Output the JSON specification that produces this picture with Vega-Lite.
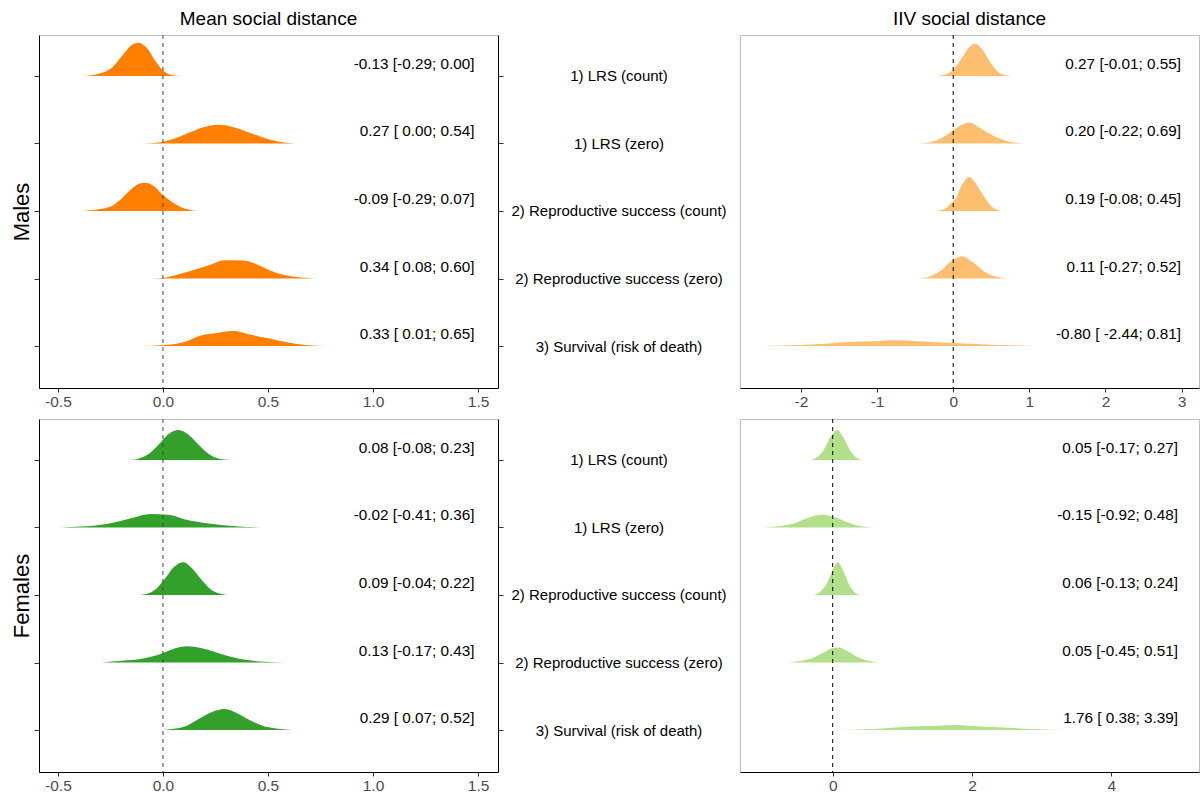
{
  "$schema": "https://vega.github.io/schema/vega-lite/v6.json",
  "autosize": {"type": "pad"},
  "padding": {"left": 10, "top": 9, "right": 0, "bottom": 0},
  "background": "white",
  "config": {
    "font": "Liberation Sans",
    "view": {"stroke": "#BDBDBD", "strokeWidth": 1},
    "axis": {"grid": false, "domainColor": "black", "domainWidth": 1, "tickColor": "#333333", "tickSize": 5, "labelFont": "Liberation Sans", "labelFontSize": 15.5, "labelColor": "#4D4D4D", "titleFont": "Liberation Sans", "titleFontWeight": "normal", "titleColor": "black", "labelOverlap": false},
    "title": {"font": "Liberation Sans", "fontSize": 19, "fontWeight": "normal", "color": "black", "offset": 6}
  },
  "datasets": {
    "mm": [
      {"o":5,"x":-0.378,"top":5,"base":5},{"o":5,"x":-0.306,"top":5.034,"base":5},{"o":5,"x":-0.243,"top":5.123,"base":5},{"o":5,"x":-0.195,"top":5.296,"base":5},{"o":5,"x":-0.148,"top":5.459,"base":5},{"o":5,"x":-0.119,"top":5.493,"base":5},{"o":5,"x":-0.076,"top":5.415,"base":5},{"o":5,"x":-0.036,"top":5.222,"base":5},{"o":5,"x":0.003,"top":5.074,"base":5},{"o":5,"x":0.043,"top":5.015,"base":5},{"o":5,"x":0.090,"top":5,"base":5},
      {"o":4,"x":-0.108,"top":4,"base":4},{"o":4,"x":-0.021,"top":4.015,"base":4},{"o":4,"x":0.059,"top":4.079,"base":4},{"o":4,"x":0.138,"top":4.178,"base":4},{"o":4,"x":0.202,"top":4.247,"base":4},{"o":4,"x":0.265,"top":4.277,"base":4},{"o":4,"x":0.329,"top":4.247,"base":4},{"o":4,"x":0.408,"top":4.163,"base":4},{"o":4,"x":0.487,"top":4.079,"base":4},{"o":4,"x":0.567,"top":4.02,"base":4},{"o":4,"x":0.659,"top":4,"base":4},
      {"o":3,"x":-0.386,"top":3,"base":3},{"o":3,"x":-0.306,"top":3.025,"base":3},{"o":3,"x":-0.243,"top":3.074,"base":3},{"o":3,"x":-0.195,"top":3.188,"base":3},{"o":3,"x":-0.156,"top":3.311,"base":3},{"o":3,"x":-0.116,"top":3.40,"base":3},{"o":3,"x":-0.084,"top":3.42,"base":3},{"o":3,"x":-0.044,"top":3.37,"base":3},{"o":3,"x":-0.005,"top":3.252,"base":3},{"o":3,"x":0.043,"top":3.133,"base":3},{"o":3,"x":0.090,"top":3.052,"base":3},{"o":3,"x":0.130,"top":3.015,"base":3},{"o":3,"x":0.170,"top":3,"base":3},
      {"o":2,"x":-0.056,"top":2,"base":2},{"o":2,"x":0.011,"top":2.015,"base":2},{"o":2,"x":0.075,"top":2.064,"base":2},{"o":2,"x":0.154,"top":2.133,"base":2},{"o":2,"x":0.233,"top":2.212,"base":2},{"o":2,"x":0.289,"top":2.272,"base":2},{"o":2,"x":0.384,"top":2.267,"base":2},{"o":2,"x":0.456,"top":2.198,"base":2},{"o":2,"x":0.519,"top":2.109,"base":2},{"o":2,"x":0.598,"top":2.04,"base":2},{"o":2,"x":0.678,"top":2.01,"base":2},{"o":2,"x":0.738,"top":2,"base":2},
      {"o":1,"x":-0.103,"top":1,"base":1},{"o":1,"x":0.011,"top":1.015,"base":1},{"o":1,"x":0.106,"top":1.064,"base":1},{"o":1,"x":0.186,"top":1.158,"base":1},{"o":1,"x":0.249,"top":1.188,"base":1},{"o":1,"x":0.337,"top":1.222,"base":1},{"o":1,"x":0.408,"top":1.173,"base":1},{"o":1,"x":0.503,"top":1.114,"base":1},{"o":1,"x":0.583,"top":1.059,"base":1},{"o":1,"x":0.678,"top":1.015,"base":1},{"o":1,"x":0.776,"top":1,"base":1}
    ],
    "mi": [
      {"o":5,"x":-0.223,"top":5,"base":5},{"o":5,"x":-0.101,"top":5.025,"base":5},{"o":5,"x":0.009,"top":5.099,"base":5},{"o":5,"x":0.118,"top":5.272,"base":5},{"o":5,"x":0.206,"top":5.42,"base":5},{"o":5,"x":0.284,"top":5.479,"base":5},{"o":5,"x":0.381,"top":5.395,"base":5},{"o":5,"x":0.490,"top":5.198,"base":5},{"o":5,"x":0.600,"top":5.049,"base":5},{"o":5,"x":0.752,"top":5,"base":5},
      {"o":4,"x":-0.45,"top":4,"base":4},{"o":4,"x":-0.276,"top":4.025,"base":4},{"o":4,"x":-0.101,"top":4.114,"base":4},{"o":4,"x":0.052,"top":4.237,"base":4},{"o":4,"x":0.206,"top":4.311,"base":4},{"o":4,"x":0.359,"top":4.227,"base":4},{"o":4,"x":0.556,"top":4.099,"base":4},{"o":4,"x":0.731,"top":4.03,"base":4},{"o":4,"x":0.941,"top":4,"base":4},
      {"o":3,"x":-0.262,"top":3,"base":3},{"o":3,"x":-0.144,"top":3.015,"base":3},{"o":3,"x":-0.035,"top":3.109,"base":3},{"o":3,"x":0.052,"top":3.222,"base":3},{"o":3,"x":0.075,"top":3.296,"base":3},{"o":3,"x":0.140,"top":3.43,"base":3},{"o":3,"x":0.206,"top":3.504,"base":3},{"o":3,"x":0.284,"top":3.43,"base":3},{"o":3,"x":0.359,"top":3.296,"base":3},{"o":3,"x":0.446,"top":3.148,"base":3},{"o":3,"x":0.534,"top":3.04,"base":3},{"o":3,"x":0.634,"top":3,"base":3},
      {"o":2,"x":-0.459,"top":2,"base":2},{"o":2,"x":-0.319,"top":2.025,"base":2},{"o":2,"x":-0.166,"top":2.114,"base":2},{"o":2,"x":-0.035,"top":2.247,"base":2},{"o":2,"x":0.118,"top":2.331,"base":2},{"o":2,"x":0.249,"top":2.247,"base":2},{"o":2,"x":0.403,"top":2.109,"base":2},{"o":2,"x":0.556,"top":2.03,"base":2},{"o":2,"x":0.752,"top":2,"base":2},
      {"o":1,"x":-2.485,"top":1,"base":1},{"o":1,"x":-2.025,"top":1.015,"base":1},{"o":1,"x":-1.588,"top":1.04,"base":1},{"o":1,"x":-1.369,"top":1.059,"base":1},{"o":1,"x":-1.063,"top":1.069,"base":1},{"o":1,"x":-0.80,"top":1.084,"base":1},{"o":1,"x":-0.45,"top":1.069,"base":1},{"o":1,"x":-0.101,"top":1.049,"base":1},{"o":1,"x":0.249,"top":1.035,"base":1},{"o":1,"x":0.600,"top":1.015,"base":1},{"o":1,"x":1.080,"top":1,"base":1}
    ],
    "fm": [
      {"o":5,"x":-0.163,"top":5,"base":5},{"o":5,"x":-0.116,"top":5.02,"base":5},{"o":5,"x":-0.068,"top":5.089,"base":5},{"o":5,"x":-0.021,"top":5.227,"base":5},{"o":5,"x":0.027,"top":5.385,"base":5},{"o":5,"x":0.075,"top":5.444,"base":5},{"o":5,"x":0.122,"top":5.375,"base":5},{"o":5,"x":0.170,"top":5.227,"base":5},{"o":5,"x":0.218,"top":5.089,"base":5},{"o":5,"x":0.273,"top":5.015,"base":5},{"o":5,"x":0.329,"top":5,"base":5},
      {"o":4,"x":-0.489,"top":4,"base":4},{"o":4,"x":-0.386,"top":4.015,"base":4},{"o":4,"x":-0.275,"top":4.049,"base":4},{"o":4,"x":-0.179,"top":4.114,"base":4},{"o":4,"x":-0.116,"top":4.168,"base":4},{"o":4,"x":-0.060,"top":4.198,"base":4},{"o":4,"x":0.027,"top":4.188,"base":4},{"o":4,"x":0.106,"top":4.119,"base":4},{"o":4,"x":0.218,"top":4.059,"base":4},{"o":4,"x":0.360,"top":4.015,"base":4},{"o":4,"x":0.503,"top":4,"base":4},
      {"o":3,"x":-0.111,"top":3,"base":3},{"o":3,"x":-0.068,"top":3.025,"base":3},{"o":3,"x":-0.029,"top":3.099,"base":3},{"o":3,"x":0.011,"top":3.247,"base":3},{"o":3,"x":0.051,"top":3.41,"base":3},{"o":3,"x":0.098,"top":3.484,"base":3},{"o":3,"x":0.138,"top":3.395,"base":3},{"o":3,"x":0.178,"top":3.247,"base":3},{"o":3,"x":0.225,"top":3.089,"base":3},{"o":3,"x":0.273,"top":3.02,"base":3},{"o":3,"x":0.317,"top":3,"base":3},
      {"o":2,"x":-0.29,"top":2,"base":2},{"o":2,"x":-0.195,"top":2.025,"base":2},{"o":2,"x":-0.10,"top":2.054,"base":2},{"o":2,"x":-0.005,"top":2.133,"base":2},{"o":2,"x":0.059,"top":2.212,"base":2},{"o":2,"x":0.114,"top":2.242,"base":2},{"o":2,"x":0.186,"top":2.212,"base":2},{"o":2,"x":0.281,"top":2.123,"base":2},{"o":2,"x":0.376,"top":2.049,"base":2},{"o":2,"x":0.487,"top":2.01,"base":2},{"o":2,"x":0.586,"top":2,"base":2},
      {"o":1,"x":-0.013,"top":1,"base":1},{"o":1,"x":0.043,"top":1.015,"base":1},{"o":1,"x":0.114,"top":1.064,"base":1},{"o":1,"x":0.170,"top":1.163,"base":1},{"o":1,"x":0.233,"top":1.267,"base":1},{"o":1,"x":0.294,"top":1.311,"base":1},{"o":1,"x":0.360,"top":1.237,"base":1},{"o":1,"x":0.424,"top":1.129,"base":1},{"o":1,"x":0.503,"top":1.04,"base":1},{"o":1,"x":0.614,"top":1,"base":1}
    ],
    "fi": [
      {"o":5,"x":-0.322,"top":5,"base":5},{"o":5,"x":-0.225,"top":5.04,"base":5},{"o":5,"x":-0.129,"top":5.148,"base":5},{"o":5,"x":-0.034,"top":5.336,"base":5},{"o":5,"x":0.062,"top":5.444,"base":5},{"o":5,"x":0.158,"top":5.326,"base":5},{"o":5,"x":0.253,"top":5.138,"base":5},{"o":5,"x":0.349,"top":5.03,"base":5},{"o":5,"x":0.435,"top":5,"base":5},
      {"o":4,"x":-0.991,"top":4,"base":4},{"o":4,"x":-0.775,"top":4.02,"base":4},{"o":4,"x":-0.560,"top":4.059,"base":4},{"o":4,"x":-0.369,"top":4.138,"base":4},{"o":4,"x":-0.154,"top":4.188,"base":4},{"o":4,"x":0.037,"top":4.148,"base":4},{"o":4,"x":0.230,"top":4.069,"base":4},{"o":4,"x":0.421,"top":4.015,"base":4},{"o":4,"x":0.622,"top":4,"base":4},
      {"o":3,"x":-0.273,"top":3,"base":3},{"o":3,"x":-0.178,"top":3.049,"base":3},{"o":3,"x":-0.082,"top":3.173,"base":3},{"o":3,"x":0.0,"top":3.37,"base":3},{"o":3,"x":0.072,"top":3.484,"base":3},{"o":3,"x":0.158,"top":3.346,"base":3},{"o":3,"x":0.238,"top":3.148,"base":3},{"o":3,"x":0.325,"top":3.03,"base":3},{"o":3,"x":0.396,"top":3,"base":3},
      {"o":2,"x":-0.642,"top":2,"base":2},{"o":2,"x":-0.488,"top":2.02,"base":2},{"o":2,"x":-0.297,"top":2.064,"base":2},{"o":2,"x":-0.129,"top":2.148,"base":2},{"o":2,"x":-0.010,"top":2.212,"base":2},{"o":2,"x":0.086,"top":2.222,"base":2},{"o":2,"x":0.205,"top":2.173,"base":2},{"o":2,"x":0.373,"top":2.074,"base":2},{"o":2,"x":0.564,"top":2.015,"base":2},{"o":2,"x":0.708,"top":2,"base":2},
      {"o":1,"x":0.086,"top":1,"base":1},{"o":1,"x":0.469,"top":1.01,"base":1},{"o":1,"x":0.852,"top":1.035,"base":1},{"o":1,"x":1.235,"top":1.054,"base":1},{"o":1,"x":1.522,"top":1.064,"base":1},{"o":1,"x":1.737,"top":1.074,"base":1},{"o":1,"x":2.0,"top":1.059,"base":1},{"o":1,"x":2.383,"top":1.04,"base":1},{"o":1,"x":2.766,"top":1.02,"base":1},{"o":1,"x":3.149,"top":1.005,"base":1},{"o":1,"x":3.555,"top":1,"base":1}
    ],
    "mmt": [
      {"o":5,"lab":"-0.13 [-0.29; 0.00]"},{"o":4,"lab":"0.27 [ 0.00; 0.54]"},{"o":3,"lab":"-0.09 [-0.29; 0.07]"},{"o":2,"lab":"0.34 [ 0.08; 0.60]"},{"o":1,"lab":"0.33 [ 0.01; 0.65]"}
    ],
    "mit": [
      {"o":5,"lab":"0.27 [-0.01; 0.55]"},{"o":4,"lab":"0.20 [-0.22; 0.69]"},{"o":3,"lab":"0.19 [-0.08; 0.45]"},{"o":2,"lab":"0.11 [-0.27; 0.52]"},{"o":1,"lab":"-0.80 [ -2.44; 0.81]"}
    ],
    "fmt": [
      {"o":5,"lab":"0.08 [-0.08; 0.23]"},{"o":4,"lab":"-0.02 [-0.41; 0.36]"},{"o":3,"lab":"0.09 [-0.04; 0.22]"},{"o":2,"lab":"0.13 [-0.17; 0.43]"},{"o":1,"lab":"0.29 [ 0.07; 0.52]"}
    ],
    "fit": [
      {"o":5,"lab":"0.05 [-0.17; 0.27]"},{"o":4,"lab":"-0.15 [-0.92; 0.48]"},{"o":3,"lab":"0.06 [-0.13; 0.24]"},{"o":2,"lab":"0.05 [-0.45; 0.51]"},{"o":1,"lab":"1.76 [ 0.38; 3.39]"}
    ]
  },
  "columns": 2,
  "spacing": {"row": 31, "column": 242},
  "bounds": "flush",
  "concat": [
    {
      "width": 459, "height": 353,
      "title": {"text": "Mean social distance"},
      "resolve": {"axis": {"y": "independent"}},
      "layer": [
        {
          "data": {"name": "mm"},
          "mark": {"type": "area", "color": "#FF7F00", "interpolate": "monotone"},
          "encoding": {
            "x": {"field": "x", "type": "quantitative", "scale": {"domain": [-0.59, 1.595], "nice": false, "zero": false}, "axis": {"values": [-0.5, 0, 0.5, 1, 1.5], "title": null, "tickSize": 4, "labelPadding": 2, "labelExpr": "datum.value < 0 ? '-' + format(-datum.value, '.1f') : format(datum.value, '.1f')"}},
            "y": {"field": "top", "type": "quantitative", "scale": {"domain": [0.378, 5.607], "nice": false, "zero": false}, "axis": {"orient": "left", "values": [1, 2, 3, 4, 5], "labels": false, "title": "Males", "titleFontSize": 22, "titlePadding": 0}},
            "y2": {"field": "base"},
            "detail": {"field": "o"}
          }
        },
        {
          "data": {"values": [{}]},
          "mark": {"type": "rule", "strokeDash": [4, 4], "color": "#444444", "strokeWidth": 1},
          "encoding": {"x": {"datum": 0}}
        },
        {
          "data": {"name": "mmt"},
          "mark": {"type": "text", "align": "right", "baseline": "middle", "dy": -12, "fontSize": 15.3, "color": "black", "font": "Liberation Sans"},
          "encoding": {
            "x": {"datum": 1.483},
            "y": {"field": "o", "type": "quantitative", "axis": {"orient": "right", "values": [1, 2, 3, 4, 5], "title": null, "labelAlign": "center", "labelBaseline": "middle", "labelPadding": 115.5, "labelFontSize": 15, "labelColor": "black", "labelLimit": 0, "labelExpr": "datum.value == 5 ? '1) LRS (count)' : datum.value == 4 ? '1) LRS (zero)' : datum.value == 3 ? '2) Reproductive success (count)' : datum.value == 2 ? '2) Reproductive success (zero)' : '3) Survival (risk of death)'"}},
            "text": {"field": "lab"}
          }
        }
      ]
    },
    {
      "width": 459, "height": 353,
      "title": {"text": "IIV social distance"},
      "layer": [
        {
          "data": {"name": "mi"},
          "mark": {"type": "area", "color": "#FDBF6F", "interpolate": "monotone"},
          "encoding": {
            "x": {"field": "x", "type": "quantitative", "scale": {"domain": [-2.8, 3.228], "nice": false, "zero": false}, "axis": {"values": [-2, -1, 0, 1, 2, 3], "title": null, "tickSize": 4, "labelPadding": 2, "labelExpr": "datum.value < 0 ? '-' + format(-datum.value, 'd') : format(datum.value, 'd')"}},
            "y": {"field": "top", "type": "quantitative", "scale": {"domain": [0.378, 5.607], "nice": false, "zero": false}, "axis": {"orient": "left", "values": [1, 2, 3, 4, 5], "title": null, "labels": false}},
            "y2": {"field": "base"},
            "detail": {"field": "o"}
          }
        },
        {
          "data": {"values": [{}]},
          "mark": {"type": "rule", "strokeDash": [4, 4], "color": "black", "strokeWidth": 1},
          "encoding": {"x": {"datum": 0}}
        },
        {
          "data": {"name": "mit"},
          "mark": {"type": "text", "align": "right", "baseline": "middle", "dy": -12, "fontSize": 15.3, "color": "black", "font": "Liberation Sans"},
          "encoding": {
            "x": {"datum": 2.992},
            "y": {"field": "o", "type": "quantitative", "axis": null},
            "text": {"field": "lab"}
          }
        }
      ]
    },
    {
      "width": 459, "height": 353,
      "resolve": {"axis": {"y": "independent"}},
      "layer": [
        {
          "data": {"name": "fm"},
          "mark": {"type": "area", "color": "#33A02C", "interpolate": "monotone"},
          "encoding": {
            "x": {"field": "x", "type": "quantitative", "scale": {"domain": [-0.59, 1.595], "nice": false, "zero": false}, "axis": {"values": [-0.5, 0, 0.5, 1, 1.5], "title": null, "tickSize": 4, "labelPadding": 2, "labelExpr": "datum.value < 0 ? '-' + format(-datum.value, '.1f') : format(datum.value, '.1f')"}},
            "y": {"field": "top", "type": "quantitative", "scale": {"domain": [0.378, 5.607], "nice": false, "zero": false}, "axis": {"orient": "left", "values": [1, 2, 3, 4, 5], "labels": false, "title": "Females", "titleFontSize": 22, "titlePadding": 0}},
            "y2": {"field": "base"},
            "detail": {"field": "o"}
          }
        },
        {
          "data": {"values": [{}]},
          "mark": {"type": "rule", "strokeDash": [4, 4], "color": "#444444", "strokeWidth": 1},
          "encoding": {"x": {"datum": 0}}
        },
        {
          "data": {"name": "fmt"},
          "mark": {"type": "text", "align": "right", "baseline": "middle", "dy": -12, "fontSize": 15.3, "color": "black", "font": "Liberation Sans"},
          "encoding": {
            "x": {"datum": 1.483},
            "y": {"field": "o", "type": "quantitative", "axis": {"orient": "right", "values": [1, 2, 3, 4, 5], "title": null, "labelAlign": "center", "labelBaseline": "middle", "labelPadding": 115.5, "labelFontSize": 15, "labelColor": "black", "labelLimit": 0, "labelExpr": "datum.value == 5 ? '1) LRS (count)' : datum.value == 4 ? '1) LRS (zero)' : datum.value == 3 ? '2) Reproductive success (count)' : datum.value == 2 ? '2) Reproductive success (zero)' : '3) Survival (risk of death)'"}},
            "text": {"field": "lab"}
          }
        }
      ]
    },
    {
      "width": 459, "height": 353,
      "layer": [
        {
          "data": {"name": "fi"},
          "mark": {"type": "area", "color": "#B2DF8A", "interpolate": "monotone"},
          "encoding": {
            "x": {"field": "x", "type": "quantitative", "scale": {"domain": [-1.331, 5.26], "nice": false, "zero": false}, "axis": {"values": [0, 2, 4], "format": "d", "title": null, "tickSize": 4, "labelPadding": 2}},
            "y": {"field": "top", "type": "quantitative", "scale": {"domain": [0.378, 5.607], "nice": false, "zero": false}, "axis": {"orient": "left", "values": [1, 2, 3, 4, 5], "title": null, "labels": false}},
            "y2": {"field": "base"},
            "detail": {"field": "o"}
          }
        },
        {
          "data": {"values": [{}]},
          "mark": {"type": "rule", "strokeDash": [4, 4], "color": "black", "strokeWidth": 1},
          "encoding": {"x": {"datum": 0}}
        },
        {
          "data": {"name": "fit"},
          "mark": {"type": "text", "align": "right", "baseline": "middle", "dy": -12, "fontSize": 15.3, "color": "black", "font": "Liberation Sans"},
          "encoding": {
            "x": {"datum": 4.958},
            "y": {"field": "o", "type": "quantitative", "axis": null},
            "text": {"field": "lab"}
          }
        }
      ]
    }
  ]
}
